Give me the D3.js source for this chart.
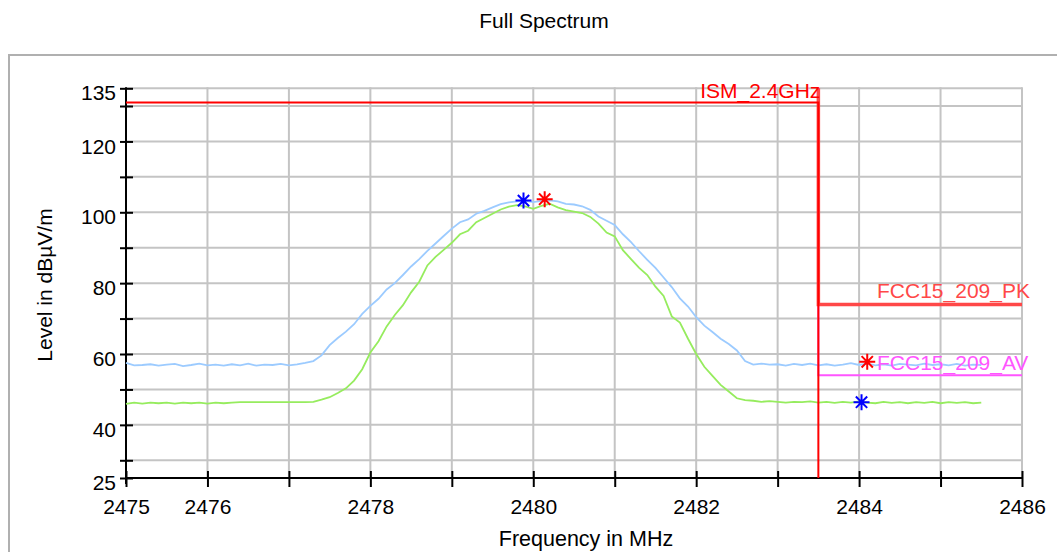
<!DOCTYPE html>
<html>
<head>
<meta charset="utf-8">
<script src="https://cdn.jsdelivr.net/npm/d3@7"></script>
<style>
html, body { margin: 0; padding: 0; background: #fff; }
svg { display: block; font-family: "Liberation Sans", Arial, sans-serif; }
</style>
</head>
<body>
<svg id="chart" width="1057" height="552"></svg>
<script>
// ---- data ----
const sweepStart = 2475;   // MHz
const sweepStep = 0.1;     // MHz

// Max peak trace (light blue)
const peakTrace = [
  57.5, 56.8, 56.9, 57.1, 56.7, 57.0, 57.2, 56.6, 56.9, 57.3,
  56.8, 57.0, 56.7, 57.1, 56.8, 57.3, 56.7, 57.0, 56.9, 57.2,
  56.8, 57.1, 57.5, 58.0, 59.6, 62.5, 64.5, 66.3, 68.4, 71.3,
  73.6, 75.6, 78.2, 80.0, 82.3, 84.7, 86.8, 89.1, 91.2, 93.3,
  95.4, 97.2, 98.0, 99.6, 100.4, 101.4, 102.3, 102.8, 103.1, 103.2,
  102.9, 103.2, 103.4, 103.1, 102.4, 102.2, 101.7, 100.7, 98.8, 97.6,
  96.4, 93.8, 91.6, 89.0, 86.6, 84.3, 81.6, 78.9, 75.7, 73.4,
  70.4, 68.0, 66.2, 64.3, 62.8, 61.0, 58.0, 57.0, 57.3, 57.0,
  57.1, 56.7, 57.2, 56.9, 57.3, 56.8, 57.1, 56.7, 57.0, 57.4,
  56.9, 57.3, 56.8, 57.1, 56.7, 57.2, 57.0, 56.8, 57.3, 56.9,
  57.1, 56.8, 57.2, 56.7, 57.0, 56.9
];

// Average trace (light green)
const avgTrace = [
  45.9, 46.3, 46.0, 46.3, 46.1, 46.3, 46.0, 46.3, 46.1, 46.3,
  46.0, 46.3, 46.1, 46.3, 46.4, 46.4, 46.4, 46.4, 46.4, 46.4,
  46.4, 46.4, 46.4, 46.5, 47.1, 47.8, 49.0, 50.3, 52.5, 55.7,
  60.4, 63.6, 67.8, 71.0, 73.8, 77.4, 80.4, 85.0, 87.4, 89.4,
  91.4, 93.8, 94.8, 97.2, 98.4, 99.6, 100.8, 101.6, 102.0, 101.7,
  101.0, 101.8, 102.4, 101.4, 100.6, 100.2, 99.8, 98.7, 96.8, 94.3,
  93.2, 89.3, 86.8, 84.3, 82.3, 79.0, 76.4, 70.6, 68.9, 64.3,
  60.0, 56.4, 53.8, 51.3, 49.4, 47.5, 47.0, 46.8, 46.5, 46.7,
  46.5, 46.3, 46.5, 46.4, 46.6, 46.3, 46.5, 46.2, 46.5, 46.3,
  46.6, 46.3, 46.1, 46.5, 46.2, 46.4, 46.1, 46.4, 46.2, 46.5,
  46.1, 46.4, 46.2, 46.4, 46.1, 46.3
];

// Markers
const markerFreqs  = [2479.88, 2480.14, 2484.10, 2484.03];
const markerLevels = [103.3, 103.7, 57.8, 46.4];
const markerColors = ["#0000ff", "#ff0000", "#ff0000", "#0000ff"];

// Limit lines
const ismFreqs   = [2475, 2483.5, 2483.5];
const ismLevels  = [131, 131, 25];
const pkFreqs    = [2483.5, 2483.5, 2486];
const pkLevels   = [135, 74, 74];
const avFreqs    = [2483.5, 2483.5, 2486];
const avLevels   = [135, 54, 54];

// Axes ticks
const xTicks       = [2475, 2476, 2477, 2478, 2479, 2480, 2481, 2482, 2483, 2484, 2485, 2486];
const xTickLabels  = [2475, 2476, 2478, 2480, 2482, 2484, 2486];
const yTicks       = [25, 30, 40, 50, 60, 70, 80, 90, 100, 110, 120, 130, 135];
const yTickLabels  = [25, 40, 60, 80, 100, 120, 135];

// ---- drawing ----
(function () {
const svg = d3.select("#chart");
const FS = 21;
const pL = 126, pR = 1022, pT = 88.3, pB = 478;

const x = d3.scaleLinear().domain([2475, 2486]).range([pL, pR]);
const y = d3.scaleLinear().domain([25, 135]).range([pB, pT]);

// outer frame
svg.append("rect")
  .attr("x", 9).attr("y", 55).attr("width", 1100).attr("height", 600)
  .attr("fill", "#fff").attr("stroke", "#b0b0b0").attr("stroke-width", 2);

// title
svg.append("text").attr("x", 544).attr("y", 28).attr("text-anchor", "middle")
  .attr("font-size", FS).attr("fill", "#000").text("Full Spectrum");

// grid
const grid = svg.append("g").attr("stroke", "#c4c4c4").attr("stroke-width", 2);
grid.selectAll("line.h").data(yTicks.filter(d => d !== 25)).join("line").attr("class", "h")
  .attr("x1", pL).attr("x2", pR).attr("y1", d => y(d)).attr("y2", d => y(d));
grid.selectAll("line.v").data(xTicks.filter(d => d !== 2475)).join("line").attr("class", "v")
  .attr("y1", pT - 1).attr("y2", pB).attr("x1", d => x(d)).attr("x2", d => x(d));

// axes
const yAxis = d3.axisLeft(y).tickValues(yTicks)
  .tickFormat(d => yTickLabels.includes(d) ? d : "").tickSize(6).tickPadding(4);
const gy = svg.append("g").attr("transform", `translate(${pL},0)`).call(yAxis);
gy.select(".domain").attr("stroke", "#000").attr("stroke-width", 2)
  .attr("d", `M0,${pT - 1}V${pB + 6}`);
gy.selectAll(".tick line").attr("x1", 7).attr("stroke", "#000").attr("stroke-width", 2);
gy.selectAll(".tick text").attr("font-size", FS).attr("fill", "#000")
  .attr("font-family", "Liberation Sans, Arial, sans-serif").attr("dy", "0.55em");

const xAxis = d3.axisBottom(x).tickValues(xTicks)
  .tickFormat(d => xTickLabels.includes(d) ? d : "").tickSize(9).tickPadding(12);
const gx = svg.append("g").attr("transform", `translate(0,${pB})`).call(xAxis);
gx.select(".domain").attr("stroke", "#000").attr("stroke-width", 2)
  .attr("d", `M${pL},0H${pR}`);
gx.selectAll(".tick line").attr("y1", -7).attr("stroke", "#000").attr("stroke-width", 2);
gx.selectAll(".tick text").attr("font-size", FS).attr("fill", "#000")
  .attr("font-family", "Liberation Sans, Arial, sans-serif");

// axis titles
svg.append("text").attr("x", 586).attr("y", 546).attr("text-anchor", "middle")
  .attr("font-size", 21.5).attr("fill", "#000").text("Frequency in MHz");
svg.append("text").attr("transform", "translate(52,285) rotate(-90)").attr("text-anchor", "middle")
  .attr("font-size", FS).attr("fill", "#000").text("Level in dBµV/m");

// traces
const traceLine = d3.line().x(d => x(d[0])).y(d => y(d[1]));
const toPts = arr => arr.map((v, i) => [sweepStart + i * sweepStep, v]);
svg.append("path").attr("d", traceLine(toPts(peakTrace)))
  .attr("fill", "none").attr("stroke", "#9ccbff").attr("stroke-width", 1.8);
svg.append("path").attr("d", traceLine(toPts(avgTrace)))
  .attr("fill", "none").attr("stroke", "#96ec5e").attr("stroke-width", 1.8);

// limit lines
const zipPts = (fs, ls) => fs.map((f, i) => [f, ls[i]]);
svg.append("path").attr("d", traceLine(zipPts(avFreqs, avLevels)))
  .attr("fill", "none").attr("stroke", "#ff55ff").attr("stroke-width", 2);
svg.append("path").attr("d", traceLine(zipPts(pkFreqs, pkLevels)))
  .attr("fill", "none").attr("stroke", "#ff4848").attr("stroke-width", 3.5);
svg.append("path").attr("d", traceLine(zipPts(ismFreqs, ismLevels)))
  .attr("fill", "none").attr("stroke", "#ff0000").attr("stroke-width", 2);

// limit labels
svg.append("text").attr("x", x(2483.5) + 2).attr("y", y(131) - 4).attr("text-anchor", "end")
  .attr("font-size", FS).attr("fill", "#ff0000").text("ISM_2.4GHz");
svg.append("text").attr("x", 877).attr("y", y(74) - 6).attr("text-anchor", "start")
  .attr("font-size", FS).attr("fill", "#ff4848").text("FCC15_209_PK");
svg.append("text").attr("x", 877).attr("y", y(54) - 5).attr("text-anchor", "start")
  .attr("font-size", FS).attr("fill", "#ff55ff").text("FCC15_209_AV");

// markers (asterisks)
const mr = 8;
const mg = svg.append("g");
markerFreqs.forEach((f, i) => {
  const cx = x(f), cy = y(markerLevels[i]);
  const d = [0, 45, 90, 135].map(a => {
    const r = a * Math.PI / 180, dx = mr * Math.cos(r), dy = mr * Math.sin(r);
    return `M${cx - dx},${cy - dy}L${cx + dx},${cy + dy}`;
  }).join("");
  mg.append("path").attr("d", d).attr("stroke", markerColors[i]).attr("stroke-width", 2).attr("fill", "none");
});
})();
</script>
</body>
</html>
